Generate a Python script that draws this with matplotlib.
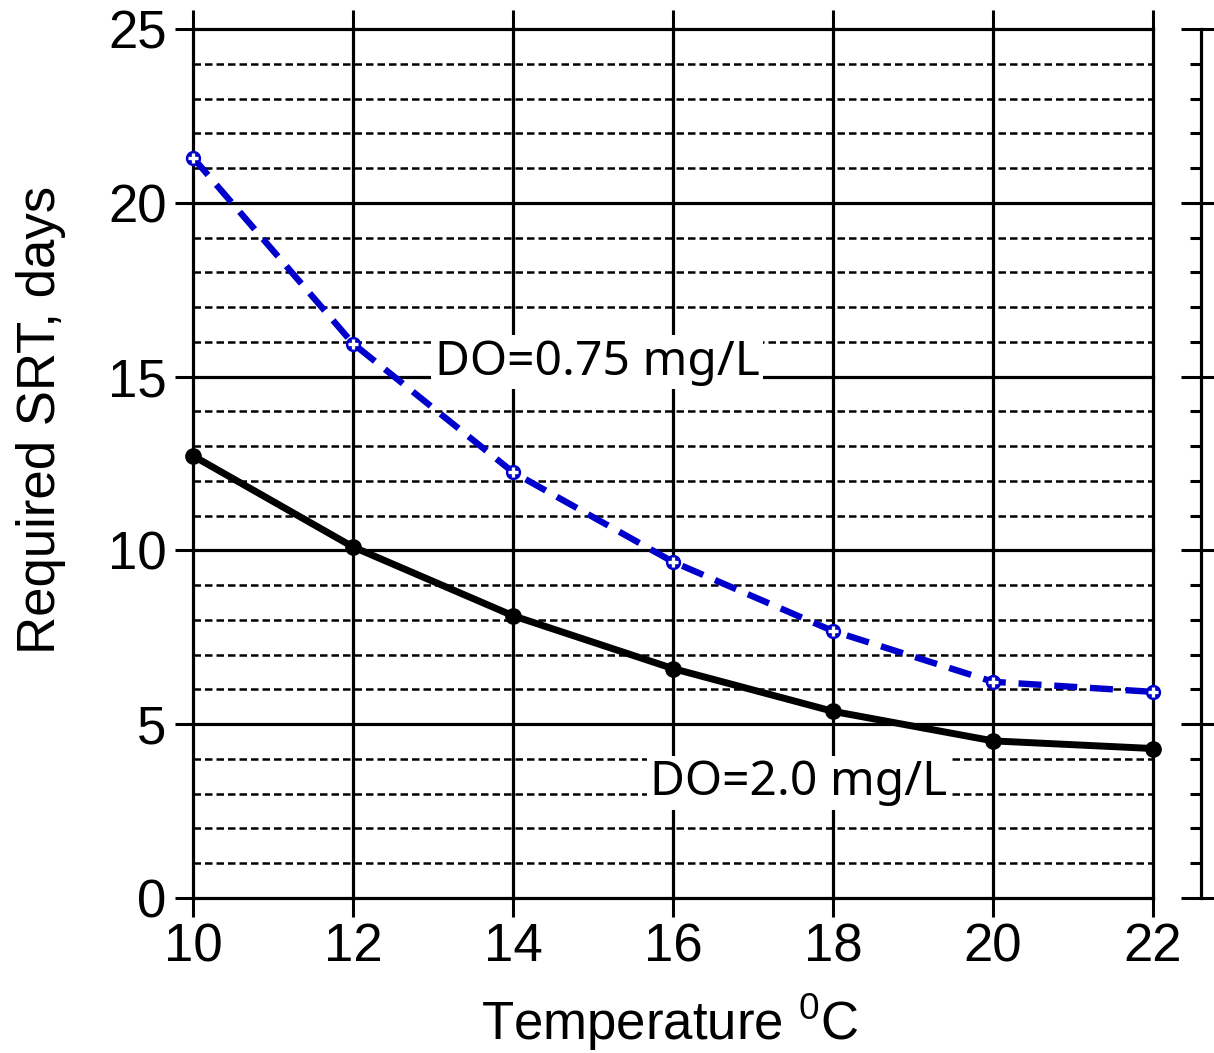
import matplotlib
matplotlib.use("Agg")
import matplotlib.pyplot as plt

# ---- data ----
temperature = [10, 12, 14, 16, 18, 20, 22]
srt_do075 = [21.3, 15.95, 12.25, 9.67, 7.68, 6.22, 5.93]
srt_do20 = [12.72, 10.1, 8.12, 6.6, 5.37, 4.52, 4.3]
x_ticks = [10, 12, 14, 16, 18, 20, 22]
y_ticks = [0, 5, 10, 15, 20, 25]
y_minor = list(range(0, 26))
label_075 = "DO=0.75 mg/L"
label_20 = "DO=2.0 mg/L"
xlabel = "Temperature $^{0}$C"
ylabel = "Required SRT, days"

plt.rcParams['font.family'] = ['Liberation Sans', 'DejaVu Sans']
plt.rcParams['mathtext.default'] = 'regular'
plt.rcParams['mathtext.fontset'] = 'custom'
plt.rcParams['mathtext.rm'] = 'Liberation Sans'

W, H = 1214, 1053
fig = plt.figure(figsize=(W / 100, H / 100), dpi=100)
L, R, T, B = 193, 1153, 29, 898
ax = fig.add_axes([L / W, 1 - B / H, (R - L) / W, (B - T) / H])
ax.set_xlim(10, 22)
ax.set_ylim(0, 25)
ax.set_xticks(x_ticks)
ax.set_yticks(y_ticks)
ax.set_yticks(y_minor, minor=True)
for s in ax.spines.values():
    s.set_visible(False)
ax.set_axisbelow(True)
ax.tick_params(axis='x', which='major', direction='out', length=13.5, width=2.2,
               top=True, bottom=True, labelsize=38, pad=4)
ax.tick_params(axis='y', which='major', direction='out', length=13, width=2.2,
               left=True, right=False, labelsize=38, pad=6)
ax.tick_params(axis='y', which='minor', length=0)
ax.grid(which='major', color='black', lw=2.3, ls='-')
ax.grid(which='minor', axis='y', color='black', lw=1.8, ls=(0, (3.0, 1.6)))
for gl in ax.get_xgridlines() + ax.get_ygridlines():
    gl.set_clip_on(False)

# series
ax.plot(temperature, srt_do20, color='black', lw=5.0, marker='o', ms=11,
        zorder=5, clip_on=False)
ax.plot(temperature, srt_do075, color='#0000CC', lw=4.6, ls=(0, (3.6, 2.0)),
        marker='o', ms=10, mfc='#0000CC', mec='#0000CC', zorder=6, clip_on=False)
ax.plot(temperature, srt_do075, ls='none', marker='+', ms=6.5, mew=2.4,
        color='white', zorder=7, clip_on=False)

# labels
ax.text(15.05, 15.42, label_075, family='Noto Sans', fontsize=34.5, ha='center',
        va='center', zorder=4,
        bbox=dict(boxstyle='square,pad=0.08', fc='white', ec='none'))
ax.text(17.575, 3.31, label_20, family='Noto Sans', fontsize=34.5, ha='center',
        va='center', zorder=4,
        bbox=dict(boxstyle='square,pad=0.08', fc='white', ec='none'))

fig.text(670 / W, 1 - 1040 / H, xlabel, fontsize=38, ha='center', va='baseline')
fig.text(41 / W, 1 - 420 / H, ylabel, fontsize=38, rotation=90, ha='center',
         va='center')

# right auxiliary axis
ax2 = fig.add_axes([1201 / W, 1 - B / H, 0.0005, (B - T) / H])
ax2.set_ylim(0, 25)
for k, s in ax2.spines.items():
    s.set_visible(k == 'left')
ax2.spines['left'].set_linewidth(2.3)
ax2.set_xticks([])
ax2.set_yticks(y_ticks)
ax2.set_yticks(y_minor, minor=True)
ax2.set_yticklabels([])
ax2.tick_params(axis='y', which='major', direction='inout', length=29, width=2.2)
ax2.tick_params(axis='y', which='minor', direction='out', length=8, width=2.2)
ax2.patch.set_visible(False)

fig.savefig("out.png", dpi=100)
